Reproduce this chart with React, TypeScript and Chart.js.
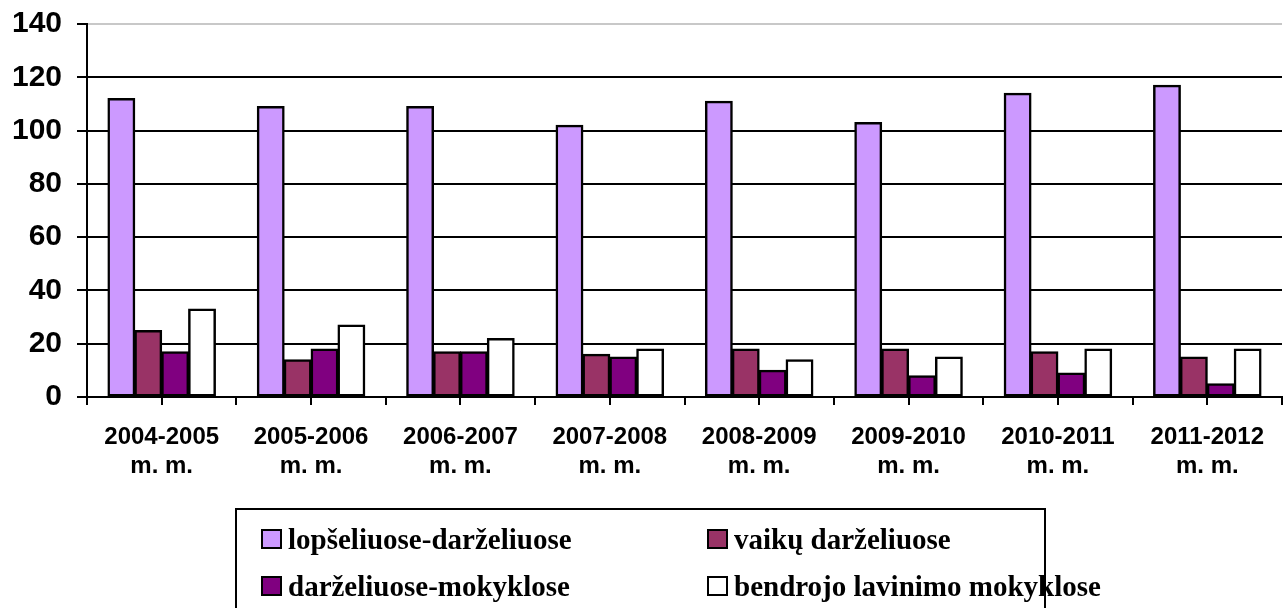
import React, { useEffect, useRef } from "react";
import { Chart, registerables } from "chart.js";

Chart.register(...registerables);

const categories: string[][] = [
  ["2004-2005", "m. m."],
  ["2005-2006", "m. m."],
  ["2006-2007", "m. m."],
  ["2007-2008", "m. m."],
  ["2008-2009", "m. m."],
  ["2009-2010", "m. m."],
  ["2010-2011", "m. m."],
  ["2011-2012", "m. m."],
];

const seriesNames = [
  "lopšeliuose-darželiuose",
  "vaikų darželiuose",
  "darželiuose-mokyklose",
  "bendrojo lavinimo mokyklose",
];

const lopseliuose = [112, 109, 109, 102, 111, 103, 114, 117];
const vaikuDarzeliuose = [25, 14, 17, 16, 18, 18, 17, 15];
const darzeliuoseMokyklose = [17, 18, 17, 15, 10, 8, 9, 5];
const bendrojo = [33, 27, 22, 18, 14, 15, 18, 18];

const seriesColors = ["#CC99FF", "#993366", "#800080", "#FFFFFF"];

const yMin = 0;
const yMax = 140;
const yStep = 20;

const centerTicks = {
  id: "centerTicks",
  afterDraw(chart: any) {
    const x = chart.scales.x;
    const ctx = chart.ctx;
    const bottom = chart.chartArea.bottom;
    ctx.save();
    ctx.strokeStyle = "#000";
    ctx.lineWidth = 2;
    for (let i = 0; i < categories.length; i++) {
      const px = Math.round(x.getPixelForValue(i));
      ctx.beginPath();
      ctx.moveTo(px, bottom);
      ctx.lineTo(px, bottom + 8);
      ctx.stroke();
    }
    ctx.restore();
  },
};

export default function App() {
  const canvasRef = useRef<HTMLCanvasElement | null>(null);

  useEffect(() => {
    if (!canvasRef.current) return;
    const allData = [lopseliuose, vaikuDarzeliuose, darzeliuoseMokyklose, bendrojo];
    const chart = new Chart(canvasRef.current, {
      type: "bar",
      data: {
        labels: categories,
        datasets: allData.map((d, i) => ({
          label: seriesNames[i],
          data: d,
          backgroundColor: seriesColors[i],
          borderColor: "#000",
          borderWidth: 2.5,
          borderSkipped: false,
          inflateAmount: 0.5,
          categoryPercentage: 0.72,
          barPercentage: 1.0,
        })),
      },
      options: {
        responsive: false,
        animation: false,
        maintainAspectRatio: false,
        layout: { padding: { top: 24, right: 3, left: 0, bottom: 0 } },
        plugins: {
          legend: { display: false },
          tooltip: { enabled: false },
        },
        scales: {
          x: {
            afterFit: (s: any) => {
              s.height = 211;
              s.paddingLeft = 0;
              s.paddingRight = 0;
            },
            grid: {
              offset: true,
              drawOnChartArea: false,
              color: "#000",
              lineWidth: 2,
              tickLength: 8,
            },
            border: { color: "#000", width: 2 },
            ticks: {
              color: "#000",
              padding: 18,
              maxRotation: 0,
              autoSkip: false,
              font: { family: "'Liberation Sans', Arial", size: 24, weight: "bold", lineHeight: 1.2 },
            },
          },
          y: {
            min: yMin,
            max: yMax,
            afterFit: (s: any) => {
              s.width = 87;
              s.paddingTop = 0;
              s.paddingBottom = 0;
            },
            grid: {
              color: (c: any) => (c.tick && c.tick.value === yMax ? "#c8c8c8" : "#000"),
              tickColor: "#000",
              lineWidth: 2,
              tickLength: 10,
            },
            border: { color: "#000", width: 2 },
            ticks: {
              stepSize: yStep,
              color: "#000",
              padding: 15,
              font: { family: "'Liberation Sans', Arial", size: 30, weight: "bold" },
            },
          },
        },
      },
      plugins: [centerTicks],
    });
    return () => chart.destroy();
  }, []);

  const legendFont = "bold 29px 'Liberation Serif', 'Times New Roman', serif";
  const items = seriesNames.map((name, i) => ({ name, color: seriesColors[i] }));
  const colX = [24, 470];
  const rowY = [17, 64];

  return (
    <div style={{ position: "fixed", left: 0, top: 0, width: 1285, height: 608, background: "#fff", overflow: "hidden" }}>
      <canvas ref={canvasRef} width={1285} height={608} style={{ position: "absolute", left: 0, top: 0 }} />
      <div
        style={{
          position: "absolute",
          left: 235,
          top: 508,
          width: 811,
          height: 120,
          border: "2px solid #000",
          boxSizing: "border-box",
        }}
      >
        {items.map((it, i) => (
          <div
            key={it.name}
            style={{
              position: "absolute",
              left: colX[i % 2],
              top: rowY[Math.floor(i / 2)],
              display: "flex",
              alignItems: "center",
              whiteSpace: "nowrap",
            }}
          >
            <div
              style={{
                width: 17,
                height: 16,
                background: it.color,
                border: "2px solid #000",
                marginRight: 6,
              }}
            />
            <span style={{ font: legendFont, color: "#000", lineHeight: "24px" }}>{it.name}</span>
          </div>
        ))}
      </div>
    </div>
  );
}
